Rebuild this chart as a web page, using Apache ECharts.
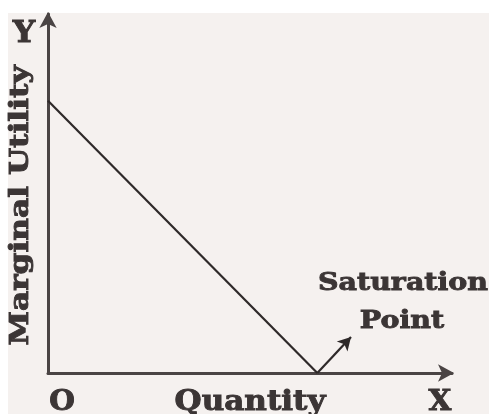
<!DOCTYPE html>
<html>
<head>
<meta charset="utf-8">
<script src="https://cdn.jsdelivr.net/npm/echarts@6/dist/echarts.min.js"></script>
<style>
  html, body { margin: 0; padding: 0; background: #ffffff; }
  #chart { width: 489px; height: 414px; }
</style>
</head>
<body>
<div id="chart"></div>
<script>
// Diminishing marginal utility: MU falls to zero at the saturation point.
const quantity = [0, 8];
const marginalUtility = [9.1, 0];
const saturationArrow = [[8, 0], [9, 1.2]];
const xLabel = 'Quantity';
const yLabel = 'Marginal Utility';
const pointLabel = ['Saturation', 'Point'];

const ink = '#3b3535';
const font = '"DejaVu Serif", serif';

// Heavy, slightly widened slab-serif lettering
function label(text, x, y, size, opts) {
  opts = opts || {};
  return {
    type: 'text', x: x, y: y,
    rotation: opts.rotation || 0,
    scaleX: opts.scaleX || 1.1,
    z: 10,
    style: {
      text: text,
      font: 'bold ' + size + 'px ' + font,
      fill: ink,
      stroke: ink, lineWidth: opts.weight || 0.9,
      align: opts.align || 'center',
      verticalAlign: opts.vAlign || 'middle'
    }
  };
}

const chart = echarts.init(document.getElementById('chart'));

chart.setOption({
  backgroundColor: '#ffffff',
  animation: false,
  grid: { left: 48, right: 37, top: 14, bottom: 41, containLabel: false },
  xAxis: {
    type: 'value', min: 0, max: 12,
    axisLine: { onZero: false, symbol: ['none', 'arrow'], symbolSize: [13, 16], symbolOffset: [0, 2],
      lineStyle: { color: '#4a4444', width: 3 } },
    axisTick: { show: false }, axisLabel: { show: false }, splitLine: { show: false }
  },
  yAxis: {
    type: 'value', min: 0, max: 12,
    axisLine: { onZero: false, symbol: ['none', 'arrow'], symbolSize: [13, 16], symbolOffset: [0, 2],
      lineStyle: { color: '#4a4444', width: 3 } },
    axisTick: { show: false }, axisLabel: { show: false }, splitLine: { show: false }
  },
  series: [{
    type: 'line',
    data: quantity.map((q, i) => [q, marginalUtility[i]]),
    showSymbol: false,
    lineStyle: { color: '#2e2929', width: 2.2 },
    markLine: {
      silent: true,
      symbol: ['none', 'arrow'],
      symbolSize: [11, 13],
      lineStyle: { color: '#2e2929', width: 2.2, type: 'solid' },
      label: { show: false },
      data: [[{ coord: saturationArrow[0] }, { coord: saturationArrow[1] }]]
    }
  }]
});

// Place the labels relative to the axes and the saturation arrow
const origin = chart.convertToPixel({ gridIndex: 0 }, [0, 0]);
const xEnd = chart.convertToPixel({ gridIndex: 0 }, [12, 0]);
const yEnd = chart.convertToPixel({ gridIndex: 0 }, [0, 12]);
const tip = chart.convertToPixel({ gridIndex: 0 }, saturationArrow[1]);

chart.setOption({
  graphic: [
    { type: 'rect', z: -10, shape: { x: 8, y: 13, width: 481, height: 401 }, style: { fill: '#f5f1ef' } },
    label('Y', origin[0] - 24, yEnd[1] + 20, 30, { scaleX: 1.05 }),
    label(yLabel, origin[0] - 27, (origin[1] + yEnd[1]) / 2 + 12, 26, { rotation: Math.PI / 2, scaleX: 1.2 }),
    label('O', origin[0] + 14, origin[1] + 30, 28, { scaleX: 1.05 }),
    label(xLabel, (origin[0] + xEnd[0]) / 2, origin[1] + 30, 27, { scaleX: 1.15 }),
    label('X', xEnd[0] - 12, origin[1] + 30, 28, { scaleX: 1.05 }),
    label(pointLabel[0], tip[0] + 52, tip[1] - 54, 25, { scaleX: 1.14 }),
    label(pointLabel[1], tip[0] + 51, tip[1] - 16, 25, { scaleX: 1.14 })
  ]
});
</script>
</body>
</html>
